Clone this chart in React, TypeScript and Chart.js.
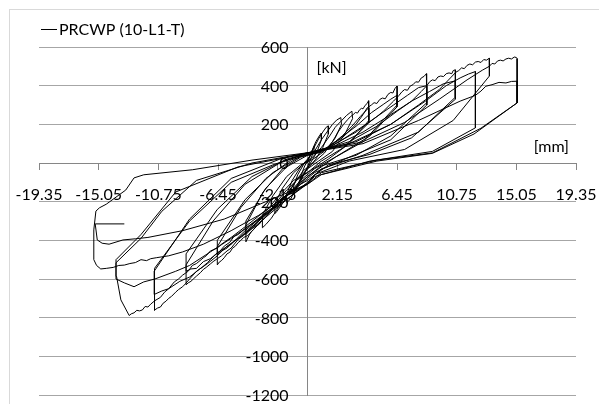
import React, { useEffect, useRef } from "react";
import { Chart, registerables } from "chart.js";

Chart.register(...registerables);

const seriesName = "PRCWP (10-L1-T)";
const xUnit = "[mm]";
const yUnit = "[kN]";
const xTickValues = [-19.35, -15.05, -10.75, -6.45, -2.15, 2.15, 6.45, 10.75, 15.05, 19.35];
const yMin = -1200;
const yMax = 600;
const yStep = 200;

type Pt = [number, number];

// displacement [mm], force [kN]
const smallCycles: Pt[] = [
  [0, 0], [0.2, 40], [0.4, 75], [0.5, 90], [0.45, 60], [0.2, 15], [0, -20], [-0.2, -50], [-0.4, -80], [-0.5, -95], [-0.45, -60], [-0.2, -15], [0, 10],
  [0.3, 60], [0.6, 110], [0.85, 140], [1.0, 155], [1.0, 120], [0.7, 60], [0.3, 10], [0, -25], [-0.4, -75], [-0.7, -120], [-1.0, -160], [-1.0, -120], [-0.7, -60], [-0.3, -10], [0, 15],
  [0.4, 70], [0.8, 125], [1.1, 160], [1.35, 185], [1.5, 192], [1.5, 150], [1.1, 80], [0.6, 20], [0.1, -20], [-0.5, -80], [-0.9, -140], [-1.2, -185], [-1.5, -205], [-1.5, -160], [-1.1, -90], [-0.5, -20], [0, 20],
  [0.5, 60], [1.0, 120], [1.5, 170], [1.8, 200], [2.1, 222], [2.4, 235], [2.45, 200], [2.0, 130], [1.2, 50], [0.4, 0], [-0.3, -40], [-0.9, -100], [-1.4, -160], [-1.8, -210], [-2.2, -250], [-2.35, -262], [-2.35, -210], [-1.8, -130], [-1.0, -50], [-0.2, 0], [0.3, 25],
  [1.0, 80], [1.6, 140], [2.0, 185], [2.4, 215], [2.8, 245], [3.2, 268], [3.25, 230], [2.7, 150], [1.8, 60], [0.8, 10], [0, -30], [-0.8, -90], [-1.5, -160], [-2.1, -230], [-2.6, -285], [-3.0, -318], [-3.25, -335], [-3.25, -270], [-2.5, -170], [-1.5, -70], [-0.5, -10], [0.4, 20],
];

const cycles4mm: Pt[] = [
  [1.2, 60], [1.8, 110], [2.2, 160], [2.6, 200], [2.9, 225], [3.1, 240], [3.3, 250], [3.45, 262], [3.6, 258], [3.75, 275], [3.9, 283], [4.0, 280], [4.15, 298], [4.3, 308], [4.4, 322], [4.42, 250], [4.4, 207], [2.6, 80], [1.0, 10], [0, -50],
  [-0.8, -90], [-1.5, -140], [-2.1, -190], [-2.6, -240], [-3.0, -280], [-3.3, -300], [-3.5, -318], [-3.7, -325], [-3.9, -345], [-4.05, -355], [-4.2, -372], [-4.35, -395], [-4.44, -408], [-4.44, -320], [-3.2, -150], [-1.8, -30], [-0.5, 30], [0.5, 50],
  [1.5, 80], [2.5, 140], [3.2, 190], [3.8, 240], [4.4, 285], [4.42, 220], [3.0, 100], [1.5, 20], [0.2, -40], [-1.0, -90], [-2.2, -180], [-3.2, -270], [-3.9, -330], [-4.44, -370], [-4.44, -300], [-3.0, -130], [-1.5, -20], [0, 40],
];

const cycles6mm: Pt[] = [
  [1.0, 60], [2.5, 130], [3.5, 200], [4.0, 250], [4.3, 285], [4.6, 300], [4.8, 312], [5.0, 308], [5.2, 328], [5.4, 336], [5.6, 332], [5.8, 355], [6.0, 365], [6.15, 362], [6.3, 385], [6.45, 398], [6.47, 330], [6.45, 300], [4.0, 110], [2.0, 30], [0.5, -30], [-0.5, -90],
  [-1.5, -170], [-2.5, -240], [-3.3, -300], [-3.9, -345], [-4.3, -375], [-4.6, -385], [-4.8, -400], [-5.0, -412], [-5.2, -430], [-5.4, -440], [-5.6, -462], [-5.8, -470], [-6.0, -490], [-6.2, -505], [-6.35, -512], [-6.5, -527], [-6.5, -433], [-4.8, -230], [-3.0, -80], [-1.2, 15], [0, 45], [1.0, 60],
  [2.0, 110], [3.5, 190], [4.6, 260], [5.5, 305], [6.0, 330], [6.45, 350], [6.45, 290], [4.5, 140], [2.0, 30], [0, -70], [-1.8, -190], [-3.5, -300], [-4.2, -340], [-4.8, -380], [-5.3, -405], [-5.8, -440], [-6.2, -455], [-6.5, -475], [-6.5, -400], [-4.5, -190], [-2.5, -50], [-0.5, 35], [1.0, 55],
];

const cycles8mm: Pt[] = [
  [2.5, 120], [4.0, 190], [5.0, 240], [5.5, 270], [6.2, 320], [6.6, 350], [6.8, 368], [7.0, 380], [7.2, 376], [7.4, 398], [7.6, 405], [7.8, 420], [8.0, 418], [8.2, 440], [8.4, 448], [8.57, 462], [8.6, 380], [8.57, 311], [6.0, 140], [3.5, 40], [1.0, -15], [0, -70], [-0.5, -100],
  [-2.0, -200], [-3.5, -300], [-4.0, -330], [-4.6, -375], [-5.0, -395], [-5.5, -440], [-5.8, -455], [-6.2, -480], [-6.5, -495], [-6.8, -510], [-7.0, -522], [-7.3, -540], [-7.5, -550], [-7.7, -566], [-8.0, -585], [-8.2, -598], [-8.4, -612], [-8.6, -620], [-8.75, -630], [-8.75, -527], [-6.8, -300], [-4.5, -110], [-2.0, 0], [0, 50], [1.5, 80],
  [3.5, 160], [5.0, 240], [6.2, 300], [7.2, 350], [8.0, 390], [8.6, 400], [8.6, 300], [6.0, 120], [3.0, 30], [0.5, -50], [0, -80], [-1.5, -170], [-3.5, -290], [-4.5, -350], [-5.5, -420], [-6.2, -450], [-7.0, -495], [-7.5, -510], [-8.0, -545], [-8.4, -548], [-8.75, -560], [-8.75, -470], [-6.5, -240], [-4.0, -70], [-1.5, 20], [0, 50], [0.5, 55],
];

const cycles11mm: Pt[] = [
  [3.0, 110], [5.0, 190], [6.5, 270], [7.5, 320], [8.2, 370], [8.6, 400], [8.8, 420], [9.0, 430], [9.2, 426], [9.4, 445], [9.6, 450], [9.8, 447], [10.0, 462], [10.2, 466], [10.4, 462], [10.5, 478], [10.65, 482], [10.67, 400], [10.65, 330], [7.5, 130], [4.5, 45], [1.5, -10], [0, -90], [-0.5, -110],
  [-2.5, -230], [-4.5, -340], [-5.0, -370], [-5.3, -380], [-5.6, -410], [-6.0, -430], [-6.3, -455], [-6.6, -470], [-7.0, -500], [-7.2, -515], [-7.6, -540], [-8.0, -560], [-8.5, -600], [-8.8, -625], [-9.0, -640], [-9.3, -655], [-9.5, -668], [-9.8, -690], [-10.0, -700], [-10.2, -715], [-10.4, -725], [-10.6, -745], [-10.8, -750], [-11.05, -762], [-11.05, -700], [-11.0, -545], [-8.5, -300], [-5.5, -100], [-2.5, -10], [0, 52], [2.0, 90],
  [4.0, 160], [6.0, 250], [7.5, 320], [8.8, 370], [9.8, 410], [10.65, 425], [10.65, 340], [8.0, 160], [4.0, 40], [1.0, -30], [0, -100], [-1.5, -190], [-4.0, -340], [-5.0, -390], [-5.8, -430], [-6.5, -480], [-7.2, -520], [-7.8, -550], [-8.5, -590], [-9.2, -612], [-10.0, -650], [-10.5, -662], [-11.05, -680], [-11.05, -560], [-8.5, -290], [-5.5, -80], [-2.0, 20], [0, 53], [0.5, 58],
];

const cycles13mm: Pt[] = [
  [3.5, 110], [6.0, 200], [8.0, 300], [9.5, 380], [10.3, 440], [10.7, 470], [10.9, 478], [11.1, 492], [11.3, 488], [11.5, 505], [11.7, 512], [11.9, 508], [12.1, 522], [12.3, 525], [12.5, 520], [12.7, 535], [12.9, 532], [13.1, 542], [13.12, 470], [13.1, 450], [10.5, 220], [7.0, 70], [3.0, 10], [0.5, -60], [0, -105],
  [-1.5, -165], [-3.0, -245], [-4.5, -330], [-5.5, -385], [-6.2, -420], [-6.5, -440], [-7.0, -455], [-7.3, -480], [-7.5, -490], [-8.0, -520], [-8.3, -530], [-8.6, -560], [-9.0, -580], [-9.3, -600], [-9.6, -615], [-10.0, -650], [-10.3, -668], [-10.6, -695], [-11.0, -712], [-11.3, -730], [-11.5, -745], [-11.7, -742], [-11.9, -760], [-12.1, -765], [-12.3, -762], [-12.5, -775], [-12.7, -780], [-12.85, -789], [-13.45, -708], [-13.76, -587], [-13.8, -516], [-12.0, -390], [-10.5, -250], [-8.0, -90], [-4.0, 0], [0, 52], [3.0, 100],
  [6.0, 200], [8.5, 320], [10.0, 400], [11.0, 440], [11.6, 460], [12.1, 473], [12.1, 182], [9.0, 60], [4.5, 10], [0.5, -70], [0, -108], [-2.5, -240], [-5.5, -390], [-7.0, -460], [-8.5, -530], [-9.5, -560], [-11.0, -600], [-11.8, -615], [-12.5, -640], [-13.2, -620], [-13.8, -600], [-13.8, -500], [-12.0, -370], [-9.5, -150], [-5.0, -20], [0, 50],
];

const cycles15mm: Pt[] = [
  [4.0, 110], [7.0, 210], [9.5, 330], [11.5, 430], [12.6, 480], [13.1, 500], [13.3, 515], [13.5, 512], [13.7, 528], [13.9, 532], [14.1, 528], [14.3, 538], [14.5, 542], [14.7, 538], [14.9, 548], [15.05, 546], [15.1, 540], [15.12, 450], [15.1, 311], [12.5, 180], [9.0, 52], [5.0, 15], [1.0, -50], [0, -110],
  [-1.5, -170], [-3.5, -270], [-5.5, -350], [-7.5, -420], [-9.0, -460], [-10.0, -480], [-10.9, -490], [-11.3, -495], [-11.6, -505], [-12.0, -500], [-12.4, -515], [-12.8, -520], [-13.2, -528], [-13.6, -530], [-14.0, -540], [-14.5, -545], [-14.9, -548], [-15.2, -530], [-15.4, -500], [-15.4, -346], [-15.25, -249], [-15.0, -232], [-14.5, -213], [-13.1, -140], [-12.5, -77], [-11.8, -61], [-8.3, -35], [-4.0, 15], [0, 53], [4.0, 100],
  [8.0, 220], [11.0, 320], [12.1, 350], [12.5, 372], [12.85, 397], [13.3, 405], [13.8, 417], [14.3, 414], [14.7, 422], [15.1, 423], [15.12, 360], [15.1, 311], [12.0, 150], [9.0, 50], [5.0, 10], [1.0, -60], [0, -110],
  [-3.0, -200], [-6.0, -290], [-9.0, -350], [-11.5, -385], [-12.4, -392], [-13.3, -398], [-14.3, -420], [-14.8, -415], [-15.15, -398], [-15.3, -315], [-13.2, -315],
];

const stages: Pt[][] = [smallCycles, cycles4mm, cycles6mm, cycles8mm, cycles11mm, cycles13mm, cycles15mm];

const FONT = "Lato, 'Open Sans', sans-serif";

const decorPlugin = {
  id: "decor",
  beforeDraw(chart: any) {
    const ctx = chart.ctx as CanvasRenderingContext2D;
    ctx.save();
    ctx.fillStyle = "#ffffff";
    ctx.fillRect(0, 0, chart.width, chart.height);
    ctx.strokeStyle = "#d9d9d9";
    ctx.lineWidth = 1;
    ctx.strokeRect(9.5, 9.5, chart.width + 40, chart.height + 40);
    ctx.restore();
  },
  beforeDatasetsDraw(chart: any) {
    const ctx = chart.ctx as CanvasRenderingContext2D;
    const xs = chart.scales.x;
    const ys = chart.scales.y;
    const x0 = xs.getPixelForValue(0);
    ctx.save();
    ctx.fillStyle = "#000";
    ctx.font = `16px ${FONT}`;
    ctx.textAlign = "right";
    ctx.textBaseline = "middle";
    for (const t of ys.ticks) {
      ctx.fillText(String(t.value), x0 - 19, ys.getPixelForValue(t.value) + 1);
    }
    ctx.restore();
  },
  afterDraw(chart: any) {
    const ctx = chart.ctx as CanvasRenderingContext2D;
    const xs = chart.scales.x;
    const ys = chart.scales.y;
    ctx.save();
    ctx.strokeStyle = "#000";
    ctx.lineWidth = 1;
    ctx.beginPath();
    ctx.moveTo(41, 29.5);
    ctx.lineTo(57, 29.5);
    ctx.stroke();
    ctx.fillStyle = "#000";
    ctx.font = `16px ${FONT}`;
    ctx.textBaseline = "middle";
    ctx.textAlign = "left";
    ctx.fillText(seriesName, 59, 30);
    const x0 = xs.getPixelForValue(0);
    const y0 = ys.getPixelForValue(0);
    ctx.fillText(yUnit, x0 + 9, ys.getPixelForValue(yMax) + 21);
    ctx.textAlign = "right";
    ctx.fillText(xUnit, chart.chartArea.right - 7, y0 - 16);
    ctx.restore();
  },
};

const noPad = (s: any) => {
  s.paddingTop = 0;
  s.paddingBottom = 0;
  s.paddingLeft = 0;
  s.paddingRight = 0;
};

export default function App() {
  const ref = useRef<HTMLCanvasElement>(null);
  useEffect(() => {
    const points = stages.flat().map(([x, y]) => ({ x, y }));
    const chart = new Chart(ref.current as HTMLCanvasElement, {
      type: "scatter",
      data: {
        datasets: [
          {
            label: seriesName,
            data: points,
            showLine: true,
            borderColor: "#000000",
            borderWidth: 1,
            pointRadius: 0,
            pointHoverRadius: 0,
            tension: 0,
            fill: false,
          },
        ],
      },
      options: {
        animation: false,
        responsive: false,
        maintainAspectRatio: false,
        devicePixelRatio: 1,
        layout: { padding: { left: 39, right: 23, top: 47, bottom: 9 } },
        plugins: { legend: { display: false }, tooltip: { enabled: false } },
        scales: {
          x: {
            type: "linear",
            min: xTickValues[0],
            max: xTickValues[xTickValues.length - 1],
            position: { y: 0 } as any,
            afterBuildTicks: (s: any) => {
              s.ticks = xTickValues.map((v) => ({ value: v }));
            },
            afterFit: noPad,
            ticks: {
              autoSkip: false,
              maxRotation: 0,
              minRotation: 0,
              padding: 16,
              color: "#000",
              font: { family: FONT, size: 16 },
              callback: (v: any) => Number(v).toFixed(2),
            },
            grid: { drawOnChartArea: false, drawTicks: true, tickLength: 6, color: "#868686" },
            border: { display: true, color: "#868686", width: 1 },
          },
          y: {
            type: "linear",
            min: yMin,
            max: yMax,
            position: { x: 0 } as any,
            afterFit: noPad,
            ticks: {
              display: false,
              stepSize: yStep,
              font: { family: FONT, size: 16 },
            },
            grid: { color: "#a6a6a6", tickLength: 5 },
            border: { display: true, color: "#868686", width: 1 },
          },
        },
      },
      plugins: [decorPlugin],
    });
    return () => chart.destroy();
  }, []);
  return (
    <div style={{ position: "fixed", left: 0, top: 0, width: 599, height: 404, background: "#fff" }}>
      <canvas ref={ref} width={599} height={404} style={{ display: "block" }} />
    </div>
  );
}
